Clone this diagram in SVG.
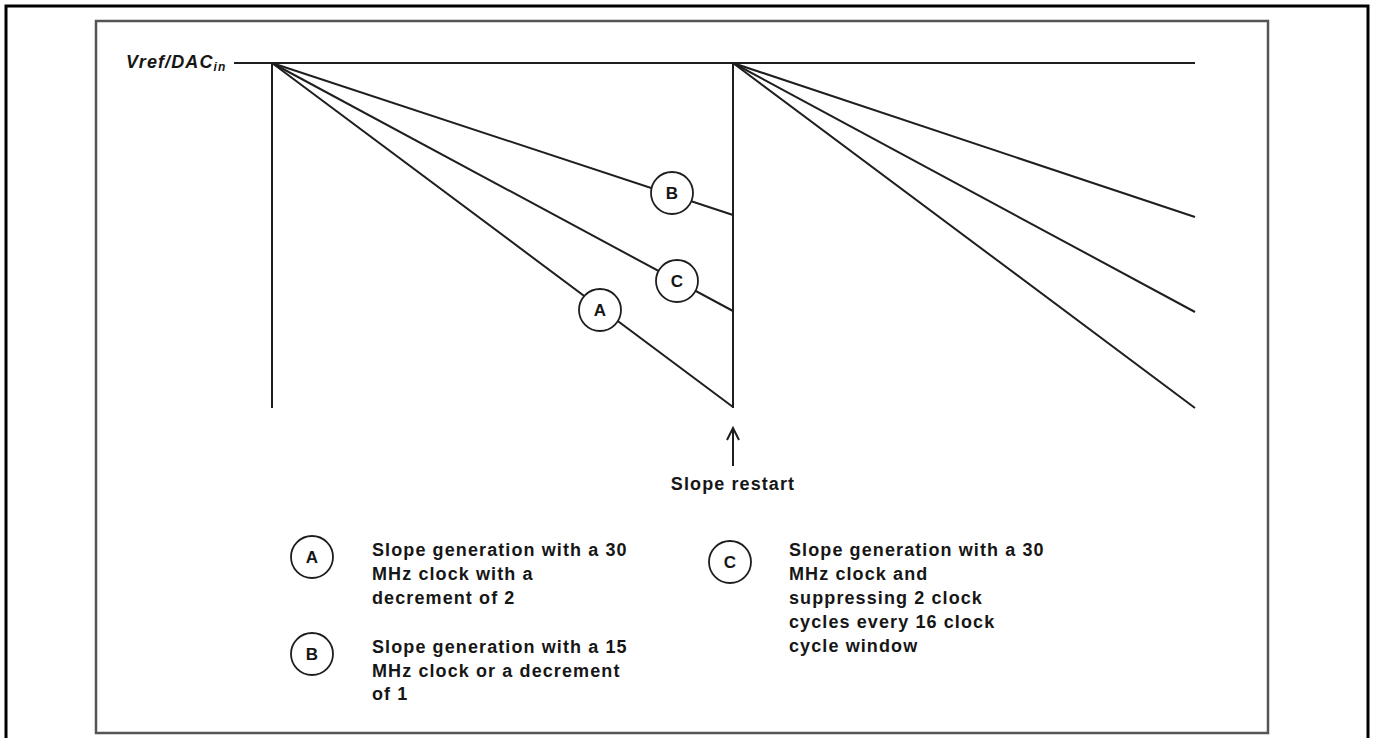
<svg xmlns="http://www.w3.org/2000/svg" width="1375" height="738" viewBox="0 0 1375 738">
<defs>
<style>
.t{font-family:"Liberation Sans",Arial,sans-serif;font-weight:bold;font-size:18px;letter-spacing:1.1px;fill:#161616}
.ln{stroke:#1e1e1e;stroke-width:2;fill:none}
.cir{fill:#fff;stroke:#1e1e1e;stroke-width:1.8}
.cl{font-family:"Liberation Sans",Arial,sans-serif;font-weight:bold;font-size:17px;fill:#161616;text-anchor:middle}
</style>
</defs>
<rect width="1375" height="738" fill="#fff"/>
<rect x="6" y="6" width="1362" height="745" fill="none" stroke="#000" stroke-width="3"/>
<rect x="96" y="21" width="1172" height="712" fill="none" stroke="#555" stroke-width="2.5"/>
<g id="axis">
<text class="t" x="126" y="68" font-style="italic" font-size="18">Vref/DAC<tspan font-size="12" dy="3">in</tspan></text>
<line class="ln" x1="234" y1="63" x2="1195" y2="63"/>
<line class="ln" x1="272" y1="63" x2="272" y2="408"/>
<line class="ln" x1="733" y1="63" x2="733" y2="408"/>
</g>
<g id="connectors">
<line class="ln" x1="272" y1="63" x2="733" y2="215"/>
<line class="ln" x1="272" y1="63" x2="733" y2="311"/>
<line class="ln" x1="272" y1="63" x2="733" y2="407"/>
<line class="ln" x1="733" y1="63" x2="1195" y2="217"/>
<line class="ln" x1="733" y1="63" x2="1195" y2="312"/>
<line class="ln" x1="733" y1="63" x2="1195" y2="408"/>
<line class="ln" x1="733" y1="466" x2="733" y2="428" stroke-width="1.8"/>
<path class="ln" d="M727,440 L733,428 L739,440" stroke-width="1.6"/>
</g>
<g id="markB"><circle class="cir" cx="672" cy="193" r="21"/><text class="cl" x="672" y="199">B</text></g>
<g id="markC"><circle class="cir" cx="677" cy="281" r="21"/><text class="cl" x="677" y="287">C</text></g>
<g id="markA"><circle class="cir" cx="600" cy="310" r="21"/><text class="cl" x="600" y="316">A</text></g>
<g id="restart"><text class="t" x="733" y="490" text-anchor="middle">Slope restart</text></g>
<g id="legendA">
<circle class="cir" cx="312" cy="557" r="21"/><text class="cl" x="312" y="563">A</text>
<text class="t" x="372" y="556">Slope generation with a 30</text>
<text class="t" x="372" y="580">MHz clock with a</text>
<text class="t" x="372" y="604">decrement of 2</text>
</g>
<g id="legendB">
<circle class="cir" cx="312" cy="654" r="21"/><text class="cl" x="312" y="660">B</text>
<text class="t" x="372" y="653">Slope generation with a 15</text>
<text class="t" x="372" y="677">MHz clock or a decrement</text>
<text class="t" x="372" y="700">of 1</text>
</g>
<g id="legendC">
<circle class="cir" cx="730" cy="562" r="21"/><text class="cl" x="730" y="568">C</text>
<text class="t" x="789" y="556">Slope generation with a 30</text>
<text class="t" x="789" y="580">MHz clock and</text>
<text class="t" x="789" y="604">suppressing 2 clock</text>
<text class="t" x="789" y="628">cycles every 16 clock</text>
<text class="t" x="789" y="652">cycle window</text>
</g>
</svg>
